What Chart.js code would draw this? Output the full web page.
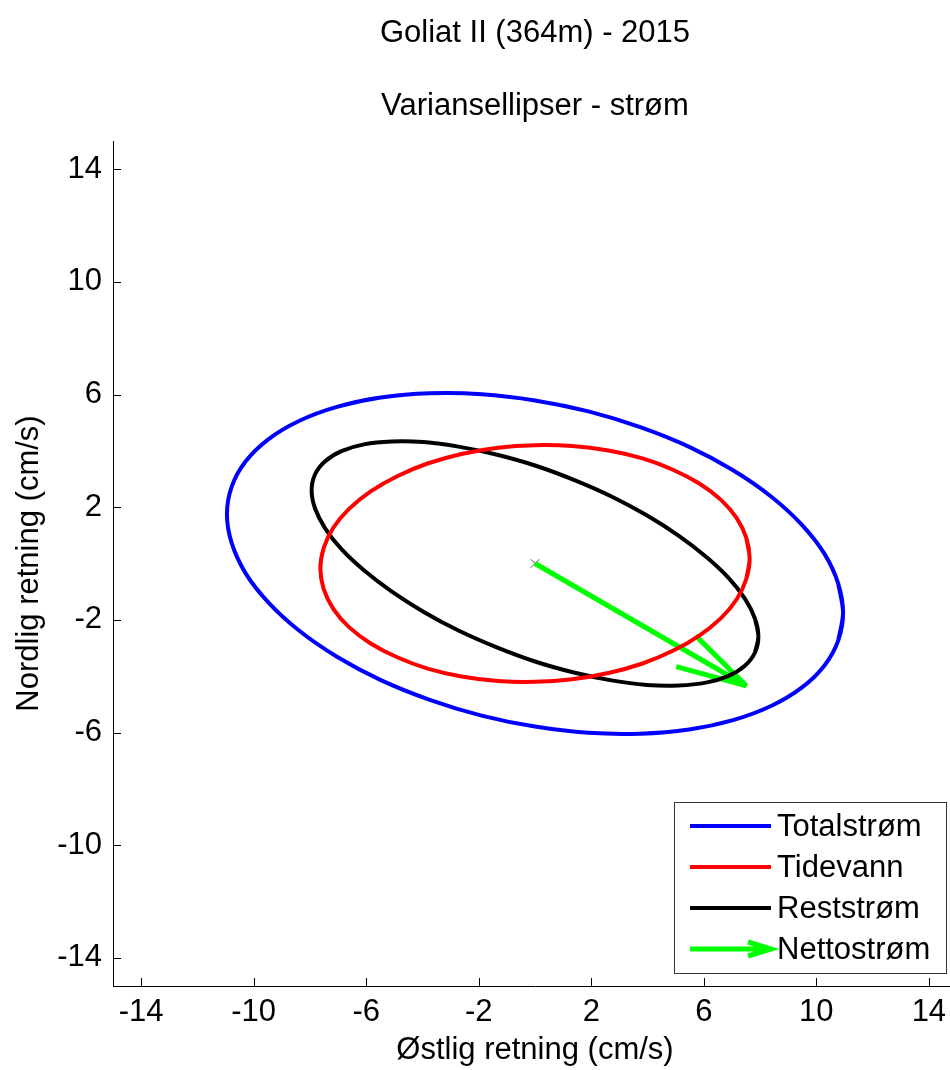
<!DOCTYPE html>
<html>
<head>
<meta charset="utf-8">
<script src="https://cdn.jsdelivr.net/npm/chart.js@4.4.1/dist/chart.umd.min.js"></script>
<style>
  html, body { margin: 0; padding: 0; background: #fff; overflow: hidden; }
  canvas { display: block; }
</style>
</head>
<body>
<canvas id="chart" width="964" height="1070"></canvas>
<script>
const titleLines = ['Goliat II (364m) - 2015', 'Variansellipser - strøm'];
const xTitle = 'Østlig retning (cm/s)';
const yTitle = 'Nordlig retning (cm/s)';
const xTicks = [-14, -10, -6, -2, 2, 6, 10, 14];
const yTicks = [-14, -10, -6, -2, 2, 6, 10, 14];

// ellipse outlines (cm/s), first point repeated to close
const totalX = [10.95, 10.78, 10.29, 9.48, 8.39, 7.04, 5.48, 3.74, 1.90, 0,
  -1.90, -3.74, -5.48, -7.04, -8.39, -9.48, -10.29, -10.78,
  -10.95, -10.78, -10.29, -9.48, -8.39, -7.04, -5.48, -3.74, -1.90, 0,
  1.90, 3.74, 5.48, 7.04, 8.39, 9.48, 10.29, 10.78, 10.95];
const totalY = [-1.75, -0.72, 0.34, 1.38, 2.38, 3.31, 4.14, 4.84, 5.40, 5.79,
  6.01, 6.04, 5.89, 5.56, 5.06, 4.41, 3.62, 2.73,
  1.75, 0.72, -0.34, -1.38, -2.38, -3.31, -4.14, -4.84, -5.40, -5.79,
  -6.01, -6.04, -5.89, -5.56, -5.06, -4.41, -3.62, -2.73, -1.75];

const tideX = [7.63, 7.51, 7.17, 6.61, 5.84, 4.90, 3.82, 2.61, 1.32, 0,
  -1.32, -2.61, -3.82, -4.90, -5.84, -6.61, -7.17, -7.51,
  -7.63, -7.51, -7.17, -6.61, -5.84, -4.90, -3.82, -2.61, -1.32, 0,
  1.32, 2.61, 3.82, 4.90, 5.84, 6.61, 7.17, 7.51, 7.63];
const tideY = [0.18, 0.91, 1.61, 2.26, 2.84, 3.33, 3.73, 4.01, 4.17, 4.20,
  4.11, 3.89, 3.55, 3.10, 2.56, 1.94, 1.27, 0.55,
  -0.18, -0.91, -1.61, -2.26, -2.84, -3.33, -3.73, -4.01, -4.17, -4.20,
  -4.11, -3.89, -3.55, -3.10, -2.56, -1.94, -1.27, -0.55, 0.18];

const restX = [7.94, 7.82, 7.46, 6.88, 6.08, 5.10, 3.97, 2.72, 1.38, 0,
  -1.38, -2.72, -3.97, -5.10, -6.08, -6.88, -7.46, -7.82,
  -7.94, -7.82, -7.46, -6.88, -6.08, -5.10, -3.97, -2.72, -1.38, 0,
  1.38, 2.72, 3.97, 5.10, 6.08, 6.88, 7.46, 7.82, 7.94];
const restY = [-2.60, -1.96, -1.25, -0.51, 0.24, 0.99, 1.71, 2.38, 2.97, 3.48,
  3.87, 4.15, 4.31, 4.33, 4.23, 3.99, 3.63, 3.16,
  2.60, 1.96, 1.25, 0.51, -0.24, -0.99, -1.71, -2.38, -2.97, -3.48,
  -3.87, -4.15, -4.31, -4.33, -4.23, -3.99, -3.63, -3.16, -2.60];

// net current arrow: origin -> tip -> barb -> tip -> barb
const netX = [0, 7.51, 5.71, 7.51, 5.02];
const netY = [0, -4.34, -2.56, -4.34, -3.66];

const FONT = "'Liberation Sans', Arial, sans-serif";
Chart.defaults.font.family = FONT;
Chart.defaults.color = '#000';

function toPoints(xs, ys) {
  return xs.map((x, i) => ({ x: x, y: ys[i] }));
}

// closed outline: overlap one point on each side so the spline has no kink at the seam
function toLoop(xs, ys) {
  const pts = toPoints(xs, ys);
  const n = pts.length;
  return [pts[n - 2]].concat(pts, [pts[1]]);
}

// title lines centred over the axes
const titlePlugin = {
  id: 'axesTitle',
  afterDraw(chart) {
    const ctx = chart.ctx;
    const ca = chart.chartArea;
    const cx = (ca.left + ca.right) / 2;
    ctx.save();
    ctx.font = '31px ' + FONT;
    ctx.fillStyle = '#000';
    ctx.textAlign = 'center';
    ctx.textBaseline = 'alphabetic';
    ctx.fillText(titleLines[0], cx, 42);
    ctx.fillText(titleLines[1], cx, 115);
    ctx.restore();
  }
};

// tick marks pointing into the plot
const innerTicks = {
  id: 'innerTicks',
  afterDraw(chart) {
    const ctx = chart.ctx;
    const ca = chart.chartArea;
    const xs = chart.scales.x, ys = chart.scales.y;
    ctx.save();
    ctx.strokeStyle = '#000';
    ctx.lineWidth = 1;
    ctx.beginPath();
    xTicks.forEach(v => {
      const px = Math.round(xs.getPixelForValue(v)) + 0.5;
      ctx.moveTo(px, ca.bottom);
      ctx.lineTo(px, ca.bottom - 8);
    });
    yTicks.forEach(v => {
      const py = Math.round(ys.getPixelForValue(v)) + 0.5;
      ctx.moveTo(ca.left, py);
      ctx.lineTo(ca.left + 8, py);
    });
    ctx.stroke();
    ctx.restore();
  }
};

// boxed legend in the lower right corner
const boxLegend = {
  id: 'boxLegend',
  afterDraw(chart) {
    const ctx = chart.ctx;
    const ca = chart.chartArea;
    const left = ca.right - 283, right = ca.right - 11;
    const top = ca.bottom - 184, bottom = ca.bottom - 13;
    ctx.save();
    ctx.fillStyle = '#fff';
    ctx.fillRect(left, top, right - left, bottom - top);
    ctx.strokeStyle = '#333';
    ctx.lineWidth = 1;
    ctx.strokeRect(Math.round(left) + 0.5, Math.round(top) + 0.5, right - left, bottom - top);
    const items = chart.data.datasets.filter(d => d.label);
    ctx.font = '31px ' + FONT;
    ctx.textBaseline = 'middle';
    ctx.textAlign = 'left';
    items.forEach((d, i) => {
      const y = top + 24 + i * 41;
      const x0 = left + 16, x1 = left + 97;
      ctx.strokeStyle = d.borderColor;
      ctx.lineWidth = d.borderWidth;
      ctx.lineCap = 'butt';
      ctx.beginPath();
      ctx.moveTo(x0, y);
      ctx.lineTo(x1, y);
      if (d.isArrow) {
        ctx.moveTo(x1 - 23, y - 7);
        ctx.lineTo(x1, y);
        ctx.lineTo(x1 - 23, y + 7);
      }
      ctx.stroke();
      ctx.fillStyle = '#000';
      ctx.fillText(d.label, left + 103, y + 1);
    });
    ctx.restore();
  }
};

new Chart(document.getElementById('chart'), {
  type: 'scatter',
  data: {
    datasets: [
      {
        label: 'Totalstrøm',
        data: toLoop(totalX, totalY),
        borderColor: '#0000ff',
        borderWidth: 4,
        showLine: true,
        pointRadius: 0,
        tension: 0.3
      },
      {
        label: 'Tidevann',
        data: toLoop(tideX, tideY),
        borderColor: '#ff0000',
        borderWidth: 4,
        showLine: true,
        pointRadius: 0,
        tension: 0.3
      },
      {
        label: 'Reststrøm',
        data: toLoop(restX, restY),
        borderColor: '#000000',
        borderWidth: 4,
        showLine: true,
        pointRadius: 0,
        tension: 0.3
      },
      {
        label: 'Nettostrøm',
        isArrow: true,
        data: toPoints(netX, netY),
        borderColor: '#00ff00',
        borderWidth: 5,
        borderJoinStyle: 'bevel',
        showLine: true,
        pointRadius: 0,
        tension: 0
      },
      {
        label: '',
        data: [{ x: 0, y: 0 }],
        pointStyle: 'crossRot',
        pointRadius: 6,
        borderColor: '#555',
        borderWidth: 1,
        showLine: false
      }
    ]
  },
  options: {
    responsive: false,
    animation: false,
    layout: { padding: { top: 141, right: 3, left: 0, bottom: 0 } },
    plugins: {
      legend: { display: false },
      title: { display: false },
      tooltip: { enabled: false }
    },
    scales: {
      x: {
        type: 'linear',
        position: 'bottom',
        min: -15,
        max: 15,
        grid: { display: false, drawTicks: false },
        border: { display: true, color: '#000', width: 1 },
        ticks: { font: { size: 31 }, color: '#000', padding: 8, autoSkip: false, maxRotation: 0 },
        afterBuildTicks: s => { s.ticks = xTicks.map(v => ({ value: v })); },
        afterFit: s => { s.height = 84; },
        title: { display: true, text: xTitle, font: { size: 31 }, color: '#000', padding: { top: 0, bottom: 1 } }
      },
      y: {
        type: 'linear',
        position: 'left',
        min: -15,
        max: 15,
        grid: { display: false, drawTicks: false },
        border: { display: true, color: '#000', width: 1 },
        ticks: { font: { size: 31 }, color: '#000', padding: 11, autoSkip: false },
        afterBuildTicks: s => { s.ticks = yTicks.map(v => ({ value: v })); },
        afterFit: s => { s.width = 113; },
        title: { display: true, text: yTitle, font: { size: 31 }, color: '#000', padding: { top: 11, bottom: 0 } }
      }
    }
  },
  plugins: [titlePlugin, innerTicks, boxLegend]
});
</script>
</body>
</html>
